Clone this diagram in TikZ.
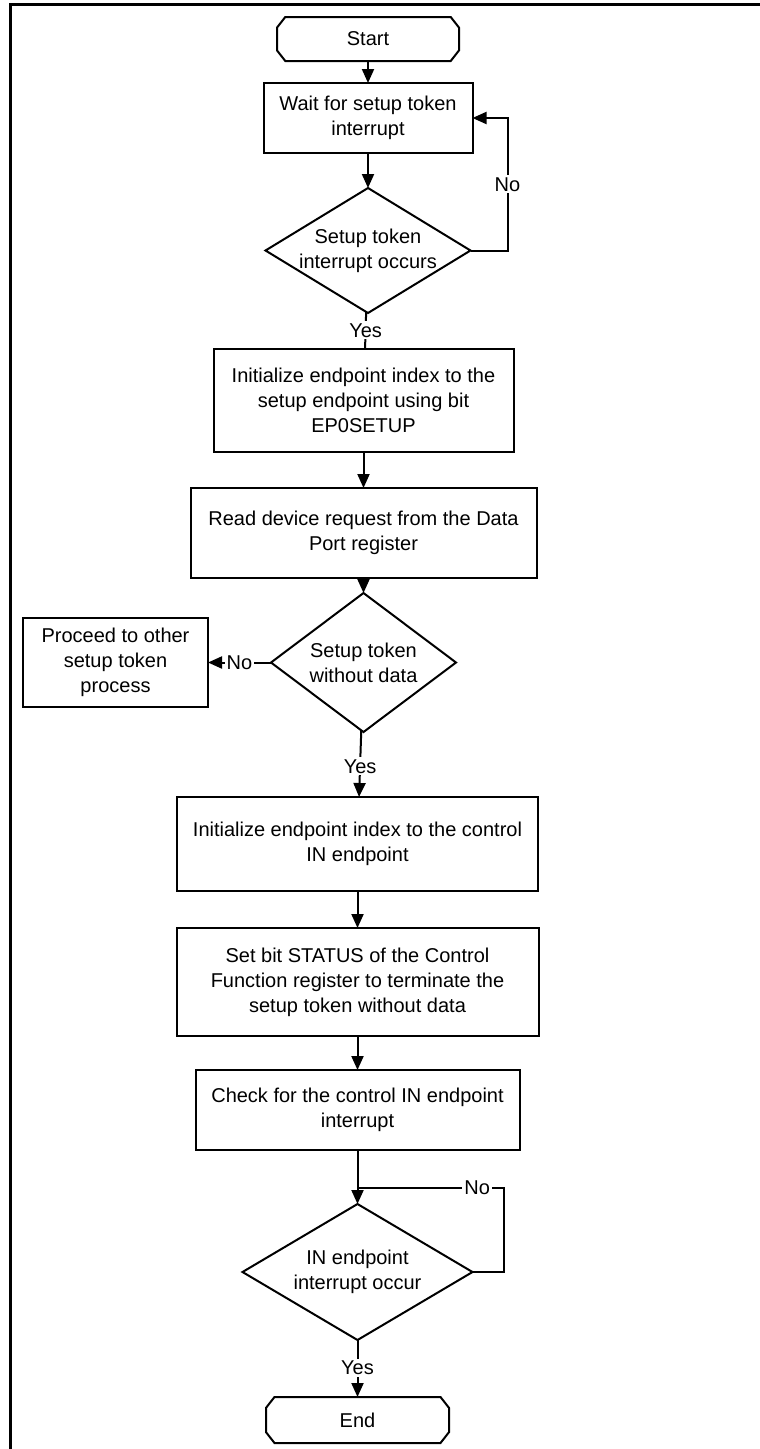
\documentclass[tikz,border=0pt]{standalone}
\usepackage{fontspec}
\setmainfont{Liberation Sans}
\usetikzlibrary{arrows.meta, positioning, shapes.geometric, shapes.misc}

\begin{document}
\begin{tikzpicture}[
    x=1pt, y=-1pt,
    font=\fontsize{20}{25}\selectfont,
    line width=2pt,
    box/.style={draw, rectangle, align=center, inner sep=2pt, outer sep=0pt},
    term/.style={draw, chamfered rectangle, chamfered rectangle angle=38, chamfered rectangle xsep=19pt, minimum width=182pt, minimum height=44pt, inner sep=0pt, outer sep=0pt},
    decision/.style={draw, diamond, align=center, inner sep=-8pt, outer sep=0pt},
    flow/.style={-{Triangle[length=14pt, width=12pt]}},
    lbl/.style={fill=white, inner sep=2pt},
    node distance=36pt
]
\useasboundingbox (0,0) rectangle (760,1449);
\draw[line width=3pt] (10,1449) |- (760,4);

\node[term] (start) at (368,39) {Start};
\node[box, below=22pt of start, minimum width=209pt, minimum height=70pt] (wait) {Wait for setup token\\interrupt};
\node[decision, below=35pt of wait, aspect=1.64, minimum width=205pt, minimum height=125pt] (tok) {Setup token\\interrupt occurs};
\node[box, below=36pt of tok, xshift=-4.5pt, minimum width=300pt, minimum height=103pt] (initsetup) {Initialize endpoint index to the\\setup endpoint using bit\\EP0SETUP};
\node[box, below=36pt of initsetup, minimum width=346pt, minimum height=90pt] (read) {Read device request from the Data\\Port register};
\node[decision, below=15pt of read, aspect=1.33, minimum width=185pt, minimum height=139pt] (nodata) {Setup token\\without data};
\node[box, left=63pt of nodata, minimum width=185pt, minimum height=89pt] (other) {Proceed to other\\setup token\\process};
\node[box, below=65pt of nodata, xshift=-6pt, minimum width=361pt, minimum height=94pt] (initin) {Initialize endpoint index to the control\\IN endpoint};
\node[box, below=37pt of initin, minimum width=362pt, minimum height=108pt] (status) {Set bit STATUS of the Control\\Function register to terminate the\\setup token without data};
\node[box, below=34pt of status, minimum width=324pt, minimum height=80pt] (check) {Check for the control IN endpoint\\interrupt};
\node[decision, below=54pt of check, aspect=1.69, minimum width=230pt, minimum height=136pt] (inint) {IN endpoint\\interrupt occur};
\node[term, below=57pt of inint, minimum width=183pt, minimum height=46pt] (stop) {End};

\draw[flow] (start) -- (wait);
\draw[flow] (wait) -- (tok);
\draw (tok) -- node[lbl] {Yes} (initsetup);
\draw[flow] (tok.east) -- ++(37,0) |- node[lbl, pos=0.25] {No} (wait.east);
\draw[flow] (initsetup) -- (read);
\draw[flow] (read) -- (nodata);
\draw[flow] (nodata) -- node[lbl] {No} (other);
\draw[flow] (nodata) -- node[lbl, pos=0.54] {Yes} (initin);
\draw[flow] (initin) -- (status);
\draw[flow] (status) -- (check);
\coordinate[below=38pt of check] (join);
\draw (inint.east) -- ++(31,0) |- node[lbl, pos=0.59] {No} (join);
\draw[flow] (check) -- (inint);
\draw[flow] (inint) -- node[lbl, pos=0.49] {Yes} (stop);
\end{tikzpicture}
\end{document}
